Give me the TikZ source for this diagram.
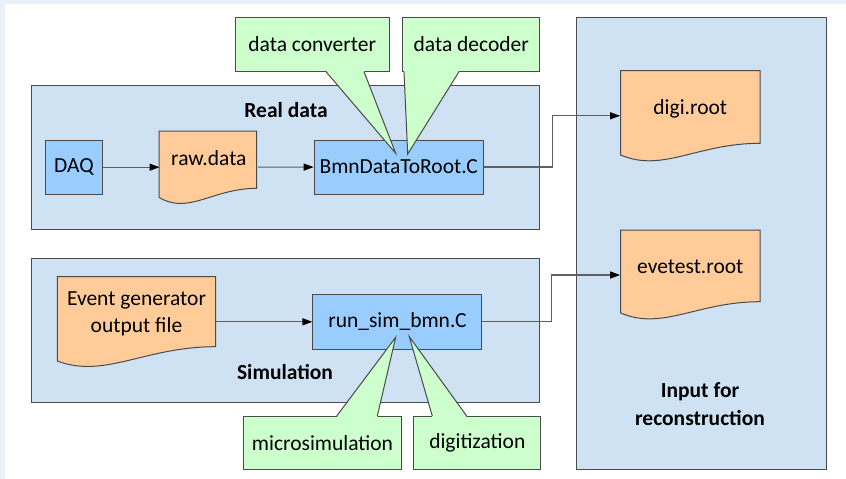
\documentclass[tikz,border=0pt]{standalone}
\usepackage{fontspec}
\setmainfont{Carlito}
\usepackage{tikz}
\usetikzlibrary{positioning,calc,arrows.meta}
\definecolor{framebg}{HTML}{EAF1F8}
\definecolor{panelblue}{HTML}{CFE2F3}
\definecolor{boxblue}{HTML}{99CCFF}
\definecolor{filebg}{HTML}{FFCC99}
\definecolor{notegreen}{HTML}{CCFFCC}
\definecolor{linegray}{HTML}{4A4A4A}
\definecolor{wiregray}{HTML}{5F5F5F}
\tikzset{%
	panel/.style = {draw=linegray, fill=panelblue, rectangle, inner sep=0pt},
	block/.style = {draw=linegray, fill=boxblue, rectangle, minimum height=54pt,
		minimum width=169pt},
	file/.style  = {rectangle, inner sep=0pt, minimum height=90pt},
	note/.style  = {draw=linegray, fill=notegreen, rectangle, minimum height=54pt},
	title/.style = {font=\fontsize{21.5}{28}\selectfont\bfseries, align=center},
	wire/.style  = {draw=wiregray, line width=1.2pt}
}
% document outline: left, top, right, bottom at left, bottom at right
\newcommand{\docshape}[5]{%
	\filldraw[draw=linegray, fill=filebg] (#1,#2) -- (#3,#2) -- (#3,#5)
	.. controls ({#1+0.55*(#3-#1)},{#5}) and ({#1+0.3*(#3-#1)},{#4+18}) .. (#1,#4) -- cycle;}

\begin{document}
\begin{tikzpicture}[x=1pt, y=-1pt, line width=1pt,
	>={Triangle[length=10pt,width=7pt,color=black]},
	font=\fontsize{21.5}{27}\selectfont]
	\useasboundingbox (0,0) rectangle (846,479);
	\fill[framebg] (0,0) rectangle (846,479);
	\fill[white] (5,4) rectangle (846,479);
	
	% panels
	\node[panel, minimum width=507.6pt, minimum height=143.6pt] (realpanel) at (285.5,157.5) {};
	\node[panel, minimum width=507.6pt, minimum height=143.7pt] (simpanel) at (285.5,330.2) {};
	\node[panel, minimum width=249.3pt, minimum height=452pt] (inpanel) at (701.4,243.3) {};
	\node[title] (realtitle) at (286,110) {Real data};
	\node[title] (simtitle) at (285,372) {Simulation};
	\node[title] (intitle) at (700,404) {Input for\\reconstruction};
	
	% files
	\docshape{159}{131}{256.7}{197.3}{188.3}
	\docshape{57.3}{276.7}{215.7}{361}{346.7}
	\docshape{620.7}{70.7}{760}{155}{143.3}
	\docshape{620.7}{230}{760}{313}{301.7}
	
	\node[block, minimum width=56.6pt] (daq) at (74,167.2) {DAQ};
	\node[file, minimum width=97.7pt, minimum height=72.3pt, text height=15pt, text depth=18pt,
		right=56.7pt of daq] (raw) {raw.data};
	\node[block] (bmn) at (398.7,167) {BmnDataToRoot.C};
	\node[file, minimum width=158.4pt, align=center] (evgen) at (136.5,314)
		{Event generator\\output file};
	\node[block, minimum height=55pt] (runsim) at (397.4,321.8) {run\_sim\_bmn.C};
	\node[file, minimum width=139.3pt, text height=15pt, text depth=18pt] (digi) at (690.3,115.8) {digi.root};
	\node[file, minimum width=139.3pt, text height=15pt, text depth=18pt] (evetest) at (690.3,275) {evetest.root};
	
	\draw[wire,->] (daq) -- (raw);
	\draw[wire,->] (raw) -- (bmn);
	\draw[wire,->] (bmn.east) -- ++(68.7,0) |- (digi.west);
	\draw[wire,->] (evgen.east |- runsim.west) -- (runsim);
	\draw[wire,->] (runsim.east) -- ++(69.3,0) |- (evetest.west);
	
	% callouts
	\node[note, minimum width=153.7pt] (conv) at (312.2,44.5) {data converter};
	\node[note, minimum width=137.3pt] (dec) at (471.3,44.5) {data decoder};
	\node[note, minimum width=158.4pt, minimum height=53.3pt] (micro) at (322.5,442.7) {microsimulation};
	\node[note, minimum width=126.7pt, minimum height=53.3pt] (digit) at (477.3,442.7) {digitization};
	\coordinate (convtip) at (395.7,153.3);
	\coordinate (dectip) at (407.7,154);
	\coordinate (microtip) at (395.7,337.3);
	\coordinate (digittip) at (409.3,336.7);
	
	\fill[notegreen] (326,70.6) -- (convtip) -- (364,70.6) -- cycle;
	\draw[linegray] (326,71.7) -- (convtip) -- (364,71.7);
	\fill[notegreen] (404,70.6) -- (dectip) -- (459,70.6) -- cycle;
	\draw[linegray] (404,71.7) -- (dectip) -- (459,71.7);
	\fill[notegreen] (336.7,417.2) -- (microtip) -- (377.3,417.2) -- cycle;
	\draw[linegray] (336.7,416) -- (microtip) -- (377.3,416);
	\fill[notegreen] (432.3,417.2) -- (digittip) -- (466.7,417.2) -- cycle;
	\draw[linegray] (432.3,416) -- (digittip) -- (466.7,416);
\end{tikzpicture}
\end{document}
